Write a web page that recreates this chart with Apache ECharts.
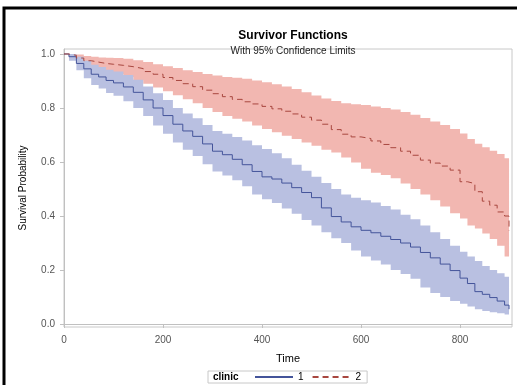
<!DOCTYPE html>
<html>
<head>
<meta charset="utf-8">
<script src="https://cdn.jsdelivr.net/npm/echarts@6/dist/echarts.min.js"></script>
<style>
  html, body { margin: 0; padding: 0; background: #fff; }
  #main { width: 517px; height: 385px; }
</style>
</head>
<body>
<div id="main"></div>
<script>
// time points (days)
var times = [0, 10, 25, 40, 55, 70, 85, 100, 120, 140, 160, 180, 200, 220, 240, 260, 280, 300, 320, 340,
  360, 380, 400, 420, 440, 460, 480, 500, 520, 540, 560, 580, 600, 620, 640, 660, 680, 700, 720, 740,
  760, 780, 800, 815, 830, 845, 860, 875, 890, 899];

// clinic 1
var surv1 = [1.0, 0.99, 0.965, 0.945, 0.925, 0.915, 0.902, 0.893, 0.878, 0.858, 0.830, 0.800, 0.772, 0.740, 0.715, 0.695, 0.667, 0.640, 0.627, 0.610,
  0.590, 0.565, 0.545, 0.537, 0.522, 0.505, 0.487, 0.468, 0.430, 0.398, 0.378, 0.360, 0.347, 0.338, 0.325, 0.313, 0.300, 0.285, 0.265, 0.245,
  0.222, 0.198, 0.170, 0.150, 0.120, 0.110, 0.098, 0.085, 0.070, 0.055];
var upper1 = [1.0, 1.0, 0.99, 0.975, 0.96, 0.952, 0.942, 0.935, 0.922, 0.905, 0.880, 0.855, 0.830, 0.800, 0.780, 0.762, 0.737, 0.715, 0.705, 0.693,
  0.680, 0.662, 0.648, 0.632, 0.614, 0.590, 0.568, 0.545, 0.522, 0.500, 0.480, 0.468, 0.458, 0.450, 0.437, 0.424, 0.405, 0.388, 0.365, 0.340,
  0.315, 0.290, 0.268, 0.250, 0.233, 0.215, 0.200, 0.188, 0.175, 0.165];
var lower1 = [1.0, 0.975, 0.94, 0.91, 0.885, 0.872, 0.856, 0.845, 0.825, 0.800, 0.770, 0.735, 0.705, 0.672, 0.645, 0.622, 0.592, 0.565, 0.550, 0.532,
  0.510, 0.480, 0.462, 0.448, 0.428, 0.408, 0.385, 0.365, 0.340, 0.318, 0.300, 0.272, 0.250, 0.235, 0.220, 0.200, 0.185, 0.168, 0.135, 0.115,
  0.100, 0.085, 0.075, 0.065, 0.055, 0.048, 0.044, 0.040, 0.035, 0.030];

// clinic 2
var surv2 = [1.0, 0.995, 0.985, 0.975, 0.97, 0.965, 0.962, 0.958, 0.953, 0.946, 0.935, 0.925, 0.913, 0.902, 0.890, 0.879, 0.866, 0.853, 0.842, 0.832,
  0.823, 0.815, 0.806, 0.797, 0.788, 0.778, 0.766, 0.755, 0.740, 0.720, 0.703, 0.693, 0.687, 0.678, 0.665, 0.653, 0.640, 0.625, 0.607, 0.596,
  0.585, 0.570, 0.527, 0.520, 0.490, 0.455, 0.440, 0.415, 0.400, 0.345];
var upper2 = [1.0, 1.0, 0.998, 0.993, 0.99, 0.987, 0.986, 0.985, 0.982, 0.977, 0.970, 0.962, 0.955, 0.948, 0.940, 0.933, 0.926, 0.920, 0.915, 0.912,
  0.908, 0.902, 0.895, 0.888, 0.880, 0.870, 0.858, 0.846, 0.835, 0.826, 0.818, 0.814, 0.811, 0.806, 0.800, 0.794, 0.785, 0.775, 0.763, 0.750,
  0.737, 0.722, 0.706, 0.685, 0.668, 0.655, 0.642, 0.630, 0.614, 0.600];
var lower2 = [1.0, 0.985, 0.97, 0.955, 0.945, 0.938, 0.932, 0.925, 0.915, 0.903, 0.890, 0.876, 0.862, 0.847, 0.832, 0.818, 0.800, 0.785, 0.770, 0.760,
  0.750, 0.735, 0.722, 0.710, 0.697, 0.685, 0.672, 0.660, 0.645, 0.635, 0.617, 0.598, 0.575, 0.560, 0.552, 0.540, 0.520, 0.500, 0.480, 0.458,
  0.435, 0.410, 0.391, 0.365, 0.354, 0.335, 0.315, 0.290, 0.250, 0.235];

var xTicks = [0, 200, 400, 600, 800];
var yTicks = [0, 0.2, 0.4, 0.6, 0.8, 1.0];

var font = 'Liberation Sans, Arial, sans-serif';

function pairs(vals) {
  var out = [];
  for (var i = 0; i < times.length; i++) out.push([times[i], vals[i]]);
  return out;
}

// confidence band as one stepped polygon (upper edge, then lower edge back)
function band(lo, hi, color) {
  var rows = [];
  for (var i = 0; i < times.length; i++) rows.push([times[i], lo[i], hi[i]]);
  return {
    type: 'custom', silent: true, clip: true,
    encode: { x: 0, y: [1, 2] },
    data: rows,
    renderItem: function (params, api) {
      if (params.dataIndex !== 0) return null;
      var top = [], bot = [];
      for (var i = 0; i < rows.length; i++) {
        var next = i < rows.length - 1 ? rows[i + 1][0] : rows[i][0];
        top.push(api.coord([rows[i][0], rows[i][2]]));
        top.push(api.coord([next, rows[i][2]]));
        bot.push(api.coord([rows[i][0], rows[i][1]]));
        bot.push(api.coord([next, rows[i][1]]));
      }
      return {
        type: 'polygon',
        shape: { points: top.concat(bot.reverse()) },
        style: { fill: color, stroke: null }
      };
    }
  };
}

var myChart = echarts.init(document.getElementById('main'));
var option = {
  animation: false,
  title: {
    text: 'Survivor Functions',
    subtext: 'With 95% Confidence Limits',
    left: 288, top: 25, textAlign: 'center', itemGap: 4,
    textStyle: { fontFamily: font, fontSize: 12, fontWeight: 'bold', color: '#000' },
    subtextStyle: { fontFamily: font, fontSize: 10, color: '#222' }
  },
  grid: {
    left: 64, right: 5, top: 49, bottom: 58,
    show: true, borderColor: '#c8c8c8', borderWidth: 1
  },
  xAxis: {
    type: 'value', min: 0, max: 905,
    name: 'Time', nameLocation: 'middle', nameGap: 26,
    nameTextStyle: { fontFamily: font, fontSize: 11, color: '#000' },
    axisLine: { show: true, lineStyle: { color: '#c0c0c0' } },
    axisTick: { show: true, length: 4, customValues: xTicks, lineStyle: { color: '#c0c0c0' } },
    axisLabel: { customValues: xTicks, margin: 8, fontFamily: font, fontSize: 10, color: '#555' },
    splitLine: { show: false }
  },
  yAxis: {
    type: 'value', min: -0.011, max: 1.0185,
    name: 'Survival Probability', nameLocation: 'middle', nameGap: 36,
    nameTextStyle: { fontFamily: font, fontSize: 10, color: '#000' },
    axisLine: { show: true, lineStyle: { color: '#c0c0c0' } },
    axisTick: { show: true, length: 4, customValues: yTicks, lineStyle: { color: '#c0c0c0' } },
    axisLabel: {
      customValues: yTicks, margin: 9, fontFamily: font, fontSize: 10, color: '#555',
      formatter: function (v) { return v.toFixed(1); }
    },
    splitLine: { show: false }
  },
  legend: {
    data: ['1', '2'],
    left: 208, top: 371,
    padding: [1, 6, 1, 46],
    itemWidth: 38, itemHeight: 10, itemGap: 8,
    itemStyle: { opacity: 0 },
    borderColor: '#c8c8c8', borderWidth: 1,
    textStyle: { fontFamily: font, fontSize: 10, color: '#000' }
  },
  graphic: [{
    type: 'rect', silent: true,
    shape: { x: 4, y: 8, width: 540, height: 400 },
    style: { fill: 'none', stroke: '#000', lineWidth: 3 }
  }, {
    type: 'text', left: 213, top: 372, silent: true,
    style: { text: 'clinic', font: 'bold 10px ' + font, fill: '#000' }
  }],
  series: [
    band(lower2, upper2, '#f2b7b1'),
    band(lower1, upper1, '#b9c0e1'),
    {
      name: '1', type: 'line', step: 'end', symbol: 'none',
      color: '#44549a',
      lineStyle: { color: '#44549a', width: 1 },
      data: pairs(surv1)
    }, {
      name: '2', type: 'line', step: 'end', symbol: 'none',
      color: '#a8473f',
      lineStyle: { color: '#a8473f', width: 1, type: [6, 4] },
      data: pairs(surv2)
    }
  ]
};
myChart.setOption(option);
</script>
</body>
</html>
